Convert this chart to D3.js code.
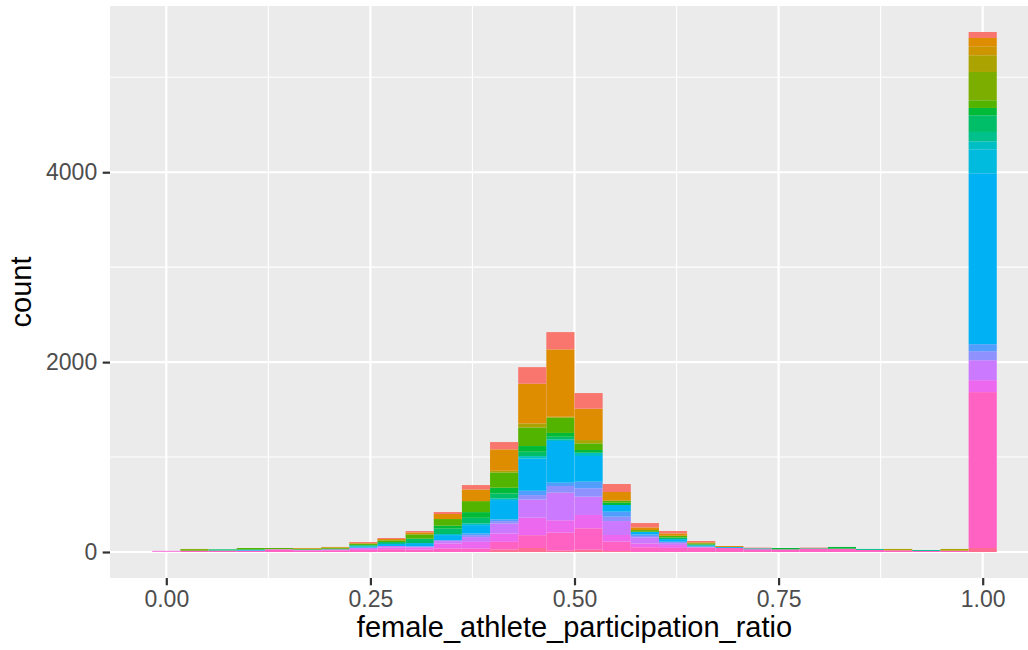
<!DOCTYPE html>
<html>
<head>
<meta charset="utf-8">
<script src="https://cdn.jsdelivr.net/npm/d3@7"></script>
<style>
  html, body { margin: 0; padding: 0; background: #ffffff; }
  svg { display: block; }
  text { font-family: "Liberation Sans", Arial, Helvetica, sans-serif; }
</style>
</head>
<body>
<svg id="chart" width="1028" height="650"></svg>
<script>
// Histogram of female_athlete_participation_ratio: 30 bins of width 1/29,
// centred on k/29, stacked by group (first group drawn on top).
const binCount = 30;
const binWidth = 1 / 29;
const binCenters = d3.range(binCount).map(k => k / 29);

// Per-group counts in each bin (bin 0 .. bin 29)
const g01 = [0,0,0,0,0,0,0,10,10,14,21,46,77,175,182,165,84,46,25,14,0,7,0,7,0,0,0,0,0,63];
const g02 = [0,0,0,0,0,7,7,7,14,21,53,123,225,418,709,330,91,28,25,10,10,0,0,0,0,0,0,0,0,87];
const g03 = [0,0,0,0,0,0,0,0,0,0,0,0,0,0,0,0,0,0,0,0,0,0,0,0,0,0,0,0,0,95];
const g04 = [0,0,0,0,0,0,0,0,0,0,0,0,18,42,10,35,0,0,0,0,0,0,0,0,0,0,14,0,18,176];
const g05 = [0,10,0,0,0,0,0,0,0,0,0,0,0,0,0,0,0,0,0,0,0,0,0,0,0,0,0,0,0,298];
const g06 = [0,8,0,14,12,8,12,14,18,46,70,116,161,196,161,70,21,18,18,12,0,0,0,0,0,0,0,0,0,81];
const g07 = [0,0,0,0,0,0,0,0,0,0,30,60,60,60,40,28,25,0,0,0,0,0,14,0,18,0,0,0,0,77];
const g08 = [0,0,10,7,0,6,6,7,10,46,58,59,52,46,27,0,0,0,17,9,0,0,0,0,0,0,0,0,0,176];
const g09 = [0,0,4,0,0,0,0,7,11,0,0,0,0,0,0,0,0,0,0,0,0,0,0,7,0,10,0,10,0,98];
const g10 = [0,0,0,0,0,0,0,0,0,0,11,18,18,25,18,35,0,0,0,0,0,10,0,0,0,0,0,0,0,84];
const g11 = [0,0,0,0,0,0,0,0,0,0,0,0,0,0,0,0,0,0,0,0,0,0,0,0,0,0,0,0,0,253];
const g12 = [0,0,0,7,0,0,0,14,21,35,53,88,204,340,439,270,70,28,28,14,10,0,0,0,0,0,0,0,0,1800];
const g13 = [0,0,0,0,0,0,0,0,0,0,0,18,18,46,35,70,53,16,0,0,0,0,0,0,0,0,0,0,0,74];
const g14 = [0,0,0,0,0,0,0,0,0,0,10,20,25,46,70,88,46,16,15,0,0,0,0,0,0,0,0,0,0,95];
const g15 = [0,0,0,0,0,0,0,14,18,14,25,50,105,190,291,193,147,63,20,10,0,0,0,0,0,0,0,0,0,210];
const g16 = [5,0,0,0,6,7,10,10,15,20,53,70,88,186,130,140,70,40,30,0,0,0,0,0,0,0,0,0,0,126];
const g17 = [7,14,14,14,24,14,18,22,30,25,37,37,80,135,190,225,99,50,43,47,43,29,28,32,35,22,18,11,14,1642];
const g18 = [0,0,0,0,0,0,0,0,0,0,0,0,27,42,14,25,10,0,0,0,0,0,0,0,0,0,0,0,0,42];

const groupNames = ["g01","g02","g03","g04","g05","g06","g07","g08","g09",
                    "g10","g11","g12","g13","g14","g15","g16","g17","g18"];
const groupCounts = [g01,g02,g03,g04,g05,g06,g07,g08,g09,g10,g11,g12,g13,g14,g15,g16,g17,g18];

// Discrete hue palette, one colour per group
const groupColors = ["#F8766D","#DE8C00","#CD9600","#ABA300","#7CAE00","#53B400",
                     "#00BA38","#00BE67","#00C08B","#00BFC4","#00BBDD","#00B2F3",
                     "#529EFF","#8F91FF","#CB7AFF","#EC69EF","#FF62C3","#FF6C91"];

const xBreaks = [0, 0.25, 0.5, 0.75, 1];
const xMinor = [0.125, 0.375, 0.625, 0.875];
const yBreaks = [0, 2000, 4000];
const yMinor = [1000, 3000, 5000];
const xTitle = "female_athlete_participation_ratio";
const yTitle = "count";

// ---- layout ----
const panel = { left: 110, top: 6, right: 1039, bottom: 578 };
const tickFont = 23;
const titleFont = 29;

const rows = binCenters.map((c, i) => {
  const r = { x0: c - binWidth / 2, x1: c + binWidth / 2 };
  groupNames.forEach((g, j) => { r[g] = groupCounts[j][i]; });
  return r;
});

// the first level sits on top of each bar, so stack from the last group upward
const stack = d3.stack().keys(groupNames.slice().reverse());
const series = stack(rows);

const xLo = rows[0].x0, xHi = rows[rows.length - 1].x1;
const xPad = (xHi - xLo) * 0.05;
const x = d3.scaleLinear().domain([xLo - xPad, xHi + xPad]).range([panel.left, panel.right]);

const yMax = d3.max(rows, r => d3.sum(groupNames, g => r[g]));
const yPad = yMax * 0.05;
const y = d3.scaleLinear().domain([-yPad, yMax + yPad]).range([panel.bottom, panel.top]);

const svg = d3.select("#chart");

svg.append("defs").append("clipPath").attr("id", "panel-clip")
  .append("rect")
  .attr("x", panel.left).attr("y", panel.top)
  .attr("width", panel.right - panel.left).attr("height", panel.bottom - panel.top);

const pg = svg.append("g").attr("clip-path", "url(#panel-clip)");

pg.append("rect")
  .attr("x", panel.left).attr("y", panel.top)
  .attr("width", panel.right - panel.left).attr("height", panel.bottom - panel.top)
  .attr("fill", "#EBEBEB");

// minor grid
pg.selectAll("line.xminor").data(xMinor).join("line")
  .attr("x1", d => x(d)).attr("x2", d => x(d))
  .attr("y1", panel.top).attr("y2", panel.bottom)
  .attr("stroke", "#ffffff").attr("stroke-width", 1.1);
pg.selectAll("line.yminor").data(yMinor).join("line")
  .attr("y1", d => y(d)).attr("y2", d => y(d))
  .attr("x1", panel.left).attr("x2", panel.right)
  .attr("stroke", "#ffffff").attr("stroke-width", 1.1);
// major grid
pg.selectAll("line.xmajor").data(xBreaks).join("line")
  .attr("x1", d => x(d)).attr("x2", d => x(d))
  .attr("y1", panel.top).attr("y2", panel.bottom)
  .attr("stroke", "#ffffff").attr("stroke-width", 2.2);
pg.selectAll("line.ymajor").data(yBreaks).join("line")
  .attr("y1", d => y(d)).attr("y2", d => y(d))
  .attr("x1", panel.left).attr("x2", panel.right)
  .attr("stroke", "#ffffff").attr("stroke-width", 2.2);

// stacked bars
const layers = pg.selectAll("g.layer").data(series).join("g")
  .attr("fill", d => groupColors[groupNames.indexOf(d.key)]);
layers.selectAll("rect").data(d => d.filter(s => s[1] > s[0])).join("rect")
  .attr("x", d => x(d.data.x0))
  .attr("width", d => x(d.data.x1) - x(d.data.x0))
  .attr("y", d => y(d[1]))
  .attr("height", d => y(d[0]) - y(d[1]));

// axes
const tickLen = 7.3;
const axisColor = "#333333";
const textColor = "#4D4D4D";

const xAxis = d3.axisBottom(x).tickValues(xBreaks).tickFormat(d3.format(".2f"))
  .tickSize(tickLen).tickPadding(5.5);
const gx = svg.append("g").attr("transform", `translate(0,${panel.bottom})`).call(xAxis);
gx.select(".domain").remove();
gx.selectAll(".tick line").attr("stroke", axisColor).attr("stroke-width", 2.2);
gx.selectAll(".tick text").attr("fill", textColor).attr("font-size", tickFont)
  .attr("font-family", "Liberation Sans, Arial, sans-serif");

const yAxis = d3.axisLeft(y).tickValues(yBreaks).tickFormat(d3.format("d"))
  .tickSize(tickLen).tickPadding(5.5);
const gy = svg.append("g").attr("transform", `translate(${panel.left},0)`).call(yAxis);
gy.select(".domain").remove();
gy.selectAll(".tick line").attr("stroke", axisColor).attr("stroke-width", 2.2);
gy.selectAll(".tick text").attr("fill", textColor).attr("font-size", tickFont)
  .attr("font-family", "Liberation Sans, Arial, sans-serif");

// axis titles
svg.append("text")
  .attr("x", (panel.left + panel.right) / 2)
  .attr("y", 637)
  .attr("text-anchor", "middle")
  .attr("font-size", titleFont).attr("fill", "#000000")
  .text(xTitle);

svg.append("text")
  .attr("transform", `translate(31,${(panel.top + panel.bottom) / 2}) rotate(-90)`)
  .attr("text-anchor", "middle")
  .attr("font-size", titleFont).attr("fill", "#000000")
  .text(yTitle);
</script>
</body>
</html>
